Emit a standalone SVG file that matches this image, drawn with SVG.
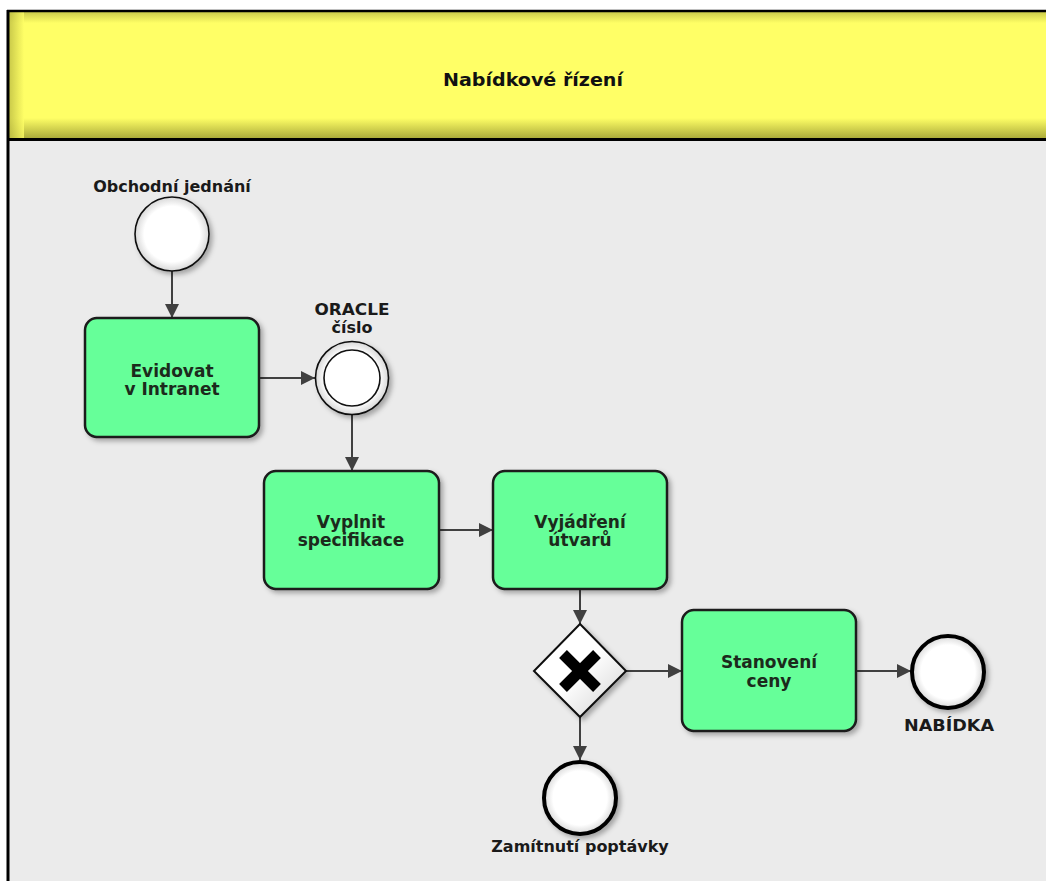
<svg xmlns="http://www.w3.org/2000/svg" width="1046" height="881" viewBox="0 0 1046 881">
<defs>
<style>
.lbl{font-family:"DejaVu Sans",Verdana,sans-serif;font-weight:bold;font-size:16px;fill:#1a1a1a;text-anchor:middle}
.tl{font-family:"DejaVu Sans",Verdana,sans-serif;font-weight:bold;font-size:17px;fill:#1c2a1c;text-anchor:middle}
.task{fill:#66FF99;stroke:#1a1a1a;stroke-width:2.5}
.con{stroke:#404040;stroke-width:2;fill:none;marker-end:url(#arr)}
.ev{fill:url(#cg);stroke:#111;stroke-width:1.6}
.end{fill:url(#cg);stroke:#000;stroke-width:4}
</style>
<marker id="arr" viewBox="0 0 14 14" refX="14" refY="7" markerWidth="14" markerHeight="14" markerUnits="userSpaceOnUse" orient="auto">
<path d="M0,0 L14,7 L0,14 Z" fill="#404040"/>
</marker>
<radialGradient id="cg" cx="0.5" cy="0.5" r="0.5">
<stop offset="0.75" stop-color="#ffffff"/>
<stop offset="1" stop-color="#d8d8d8"/>
</radialGradient>
<linearGradient id="gw" x1="0" y1="0" x2="1" y2="1">
<stop offset="0.5" stop-color="#ffffff"/>
<stop offset="1" stop-color="#cfcfcf"/>
</linearGradient>
<linearGradient id="hb" x1="0" y1="0" x2="0" y2="1">
<stop offset="0" stop-color="#FFFF66"/>
<stop offset="1" stop-color="#A8A838"/>
</linearGradient>
<linearGradient id="hl" x1="1" y1="0" x2="0" y2="0">
<stop offset="0" stop-color="#FFFF66"/>
<stop offset="1" stop-color="#B8B840"/>
</linearGradient>
<linearGradient id="ht" x1="0" y1="1" x2="0" y2="0">
<stop offset="0" stop-color="#FFFF66"/>
<stop offset="1" stop-color="#C8C848"/>
</linearGradient>
<filter id="sh" x="-10%" y="-10%" width="125%" height="125%">
<feDropShadow dx="3" dy="3" stdDeviation="2.5" flood-color="#000" flood-opacity="0.3"/>
</filter>
</defs>
<rect x="0" y="0" width="1046" height="881" fill="#ffffff"/>
<g id="lane">
<rect x="8" y="139" width="1038" height="742" fill="#EBEBEB"/>
<rect x="8" y="11" width="1038" height="128" fill="#FFFF66"/>
<rect x="8" y="11" width="1038" height="12" fill="url(#ht)"/>
<rect x="8" y="118" width="1038" height="21" fill="url(#hb)"/>
<rect x="8" y="11" width="16" height="128" fill="url(#hl)" opacity="0.8"/>
<line x1="8" y1="10" x2="8" y2="881" stroke="#000" stroke-width="3"/>
<line x1="7" y1="11" x2="1046" y2="11" stroke="#000" stroke-width="2.5"/>
<line x1="7" y1="139.5" x2="1046" y2="139.5" stroke="#000" stroke-width="3"/>
<text x="533" y="86" font-family="'DejaVu Sans Condensed','DejaVu Sans',sans-serif" font-weight="bold" font-size="18" fill="#111" text-anchor="middle" textLength="180" lengthAdjust="spacingAndGlyphs">Nabídkové řízení</text>
</g>
<g id="connectors">
<line class="con" x1="172" y1="271" x2="172" y2="318"/>
<line class="con" x1="259" y1="378" x2="315" y2="378"/>
<line class="con" x1="352" y1="414" x2="352" y2="471"/>
<line class="con" x1="439" y1="530" x2="493" y2="530"/>
<line class="con" x1="580" y1="589" x2="580" y2="624"/>
<line class="con" x1="625" y1="671" x2="682" y2="671"/>
<line class="con" x1="856" y1="671" x2="911" y2="671"/>
<line class="con" x1="580" y1="717" x2="580" y2="760"/>
</g>
<g id="start">
<circle class="ev" cx="172" cy="234" r="37" filter="url(#sh)"/>
<text class="lbl" x="172" y="192">Obchodní jednání</text>
</g>
<g id="evidovat">
<rect class="task" x="85" y="318" width="174" height="119" rx="12" filter="url(#sh)"/>
<text class="tl" x="172" y="377">Evidovat</text>
<text class="tl" x="172" y="395">v Intranet</text>
</g>
<g id="oracle">
<circle class="ev" cx="352" cy="378" r="36.5" filter="url(#sh)"/>
<circle cx="352" cy="378" r="28" fill="#fff" stroke="#111" stroke-width="1.6"/>
<text class="lbl" x="352" y="315" textLength="75" lengthAdjust="spacingAndGlyphs">ORACLE</text>
<text class="lbl" x="352" y="333">číslo</text>
</g>
<g id="vyplnit">
<rect class="task" x="264" y="471" width="175" height="118" rx="12" filter="url(#sh)"/>
<text class="tl" x="351" y="528">Vyplnit</text>
<text class="tl" x="351" y="546">specifikace</text>
</g>
<g id="vyjadreni">
<rect class="task" x="493" y="471" width="174" height="118" rx="12" filter="url(#sh)"/>
<text class="tl" x="580" y="528">Vyjádření</text>
<text class="tl" x="580" y="546">útvarů</text>
</g>
<g id="gateway">
<polygon points="580,624 626,671 580,717 534,671" fill="url(#gw)" stroke="#111" stroke-width="2" filter="url(#sh)"/>
<line x1="563" y1="654" x2="597" y2="688" stroke="#000" stroke-width="11"/>
<line x1="597" y1="654" x2="563" y2="688" stroke="#000" stroke-width="11"/>
</g>
<g id="stanoveni">
<rect class="task" x="682" y="610" width="174" height="121" rx="12" filter="url(#sh)"/>
<text class="tl" x="769" y="668">Stanovení</text>
<text class="tl" x="769" y="687">ceny</text>
</g>
<g id="nabidka">
<circle class="end" cx="948" cy="672" r="36" filter="url(#sh)"/>
<text class="lbl" x="949" y="731" textLength="90" lengthAdjust="spacingAndGlyphs">NABÍDKA</text>
</g>
<g id="zamitnuti">
<circle class="end" cx="580" cy="798" r="36" filter="url(#sh)"/>
<text class="lbl" x="580" y="852">Zamítnutí poptávky</text>
</g>
</svg>
